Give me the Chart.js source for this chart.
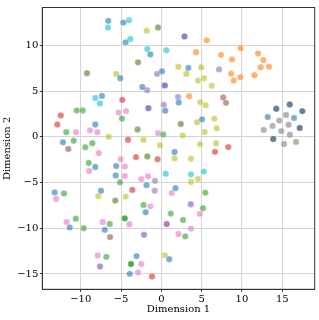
<!DOCTYPE html>
<html><head><meta charset="utf-8">
<script src="https://cdn.jsdelivr.net/npm/chart.js@4.4.1/dist/chart.umd.min.js"></script>
<style>html,body{margin:0;padding:0;background:#fff}canvas{display:block}</style>
</head><body>
<canvas id="c" width="319" height="320"></canvas>
<script>
// ---- data ----
const blueX = [-6.58,-7.36,-8.19,-12.20,-4.71,-4.44,-1.36,0.09,-5.09,-2.36,2.16,0.48,3.35,5.05,1.64,-8.19,-5.60,-5.66,-1.84,1.76,-13.23,-7.48,-1.94,-11.36,-7.02,-3.08,0.99,-3.92,13.20,16.46];
const blueY = [12.68,4.47,1.34,-0.60,12.49,10.33,9.01,7.17,6.41,5.44,3.75,2.86,7.53,1.91,-1.67,-3.30,-3.20,-4.24,-5.29,-5.62,-6.08,-5.90,-8.26,-9.91,-10.18,-13.05,-13.39,-14.99,2.16,2.05];
const cyanX = [-6.61,-8.19,-7.61,-4.01,-3.85,-1.74,0.62,0.55,3.68,5.27];
const cyanY = [11.95,4.25,3.64,12.74,10.69,9.61,9.47,-4.05,-4.11,-3.81];
const greenX = [-10.50,-9.75,-11.79,-10.87,-8.56,-9.43,-4.88,0.25,-9.01,-5.12,-12.07,-2.21,-10.61,-9.63,-6.40,-6.82,5.46,5.17,1.17,2.69,2.97];
const greenY = [2.88,2.88,0.51,-0.43,-0.71,-1.14,1.99,0.26,-2.86,-4.98,-6.19,-7.45,-8.96,-10.00,-9.54,-13.13,-6.11,-7.81,-8.40,-9.10,-10.89];
const darkGreenX = [-4.54,-3.76];
const darkGreenY = [-8.92,-13.91];
const mossX = [-9.22,-2.89,-0.41,-2.95,-1.74,2.41,-5.71];
const mossY = [6.95,8.14,11.95,0.80,-2.16,1.40,-6.98];
const oliveX = [-6.53,-5.58,-1.81,-2.21,-0.16,2.11,4.96,3.10,4.55,5.30,6.25,4.84,5.51,4.43,6.58,6.87,5.36,2.66,4.80,6.79,1.64,3.68,4.53,3.68,-7.82,-4.42,0.42];
const oliveY = [0.00,6.88,11.60,-0.32,-0.93,7.66,7.60,6.88,6.16,6.41,5.58,3.78,3.46,1.59,1.99,0.94,0.53,0.15,-0.82,-0.71,-2.38,-2.41,-4.62,-4.95,-6.51,-6.54,-12.96];
const orangeX = [5.63,4.31,7.41,9.83,8.77,8.65,9.80,8.98,3.46,12.00,12.66,12.33,13.36,11.56];
const orangeY = [10.55,9.25,8.96,9.69,8.47,6.91,6.53,6.16,4.43,9.11,8.39,7.60,7.67,6.74];
const redX = [-12.48,-12.90,-4.84,-4.13,-3.14,-0.47,8.31,6.66,-3.60,-1.15];
const redY = [2.34,1.34,4.04,-0.32,-2.22,-2.46,-1.13,-1.65,-5.81,-15.28];
const pinkX = [-8.85,-7.94,-10.58,-5.29,-4.38,-0.41,-5.04,-7.77,-8.95,-4.53,-4.54,-2.49,-1.65,1.29,-13.04,-1.36,-3.97,-11.74,-7.27,2.13,4.78,3.68,-7.89,-2.48,-2.89];
const pinkY = [0.70,0.51,0.51,2.63,2.81,0.40,-2.46,-1.79,-3.74,-3.25,-4.28,-4.65,-4.32,-6.16,-6.80,-7.61,-9.57,-9.32,-9.32,-10.64,-8.43,-10.04,-12.99,-13.91,-14.85];
const lavenderX = [-0.53,-1.75,2.07,0.30,7.16,-0.78,-0.82];
const lavenderY = [6.88,5.10,4.36,3.51,7.37,-4.82,-5.89];
const purpleX = [3.65,-2.15,-7.61];
const purpleY = [-7.38,-10.72,-14.18];
const indigoX = [2.88,0.43,-1.61];
const indigoY = [10.98,5.62,3.13];
const magentaX = [0.67];
const magentaY = [-9.54];
const brownX = [-11.54,7.68,8.03,-6.36];
const brownY = [-1.33,4.29,3.71,-10.97];
const grayX = [15.47,14.63,13.80,15.78,12.70,14.88,15.94,15.22,16.71];
const grayY = [2.38,1.77,1.19,1.32,0.76,0.62,0.22,-0.79,-0.57];
const slateX = [14.26,15.93,17.49,17.17,13.88];
const slateY = [3.07,3.53,2.81,0.97,-0.25];

const xTicks = [-10,-5,0,5,10,15];
const yTicks = [-15,-10,-5,0,5,10];
const xTitle = 'Dimension 1';
const yTitle = 'Dimension 2';

// ---- styles ----
const seriesList = [
  ['blue', blueX, blueY, 'rgba(31,119,180,0.6)'],
  ['cyan', cyanX, cyanY, 'rgba(23,190,207,0.6)'],
  ['green', greenX, greenY, 'rgba(44,160,44,0.6)'],
  ['darkgreen', darkGreenX, darkGreenY, 'rgba(30,150,30,0.8)'],
  ['moss', mossX, mossY, 'rgba(75,120,20,0.6)'],
  ['olive', oliveX, oliveY, 'rgba(188,189,34,0.6)'],
  ['orange', orangeX, orangeY, 'rgba(255,127,14,0.6)'],
  ['red', redX, redY, 'rgba(214,39,40,0.6)'],
  ['pink', pinkX, pinkY, 'rgba(227,119,194,0.6)'],
  ['lavender', lavenderX, lavenderY, 'rgba(148,103,189,0.6)'],
  ['purple', purpleX, purpleY, 'rgba(120,80,180,0.6)'],
  ['indigo', indigoX, indigoY, 'rgba(60,40,170,0.6)'],
  ['magenta', magentaX, magentaY, 'rgba(140,30,140,0.6)'],
  ['brown', brownX, brownY, 'rgba(140,86,75,0.6)'],
  ['gray', grayX, grayY, 'rgba(127,127,127,0.6)'],
  ['slate', slateX, slateY, 'rgba(0,40,80,0.6)']
];

const allX = seriesList.flatMap(s => s[1]);
const allY = seriesList.flatMap(s => s[2]);
function pad(arr){const mn=Math.min(...arr),mx=Math.max(...arr),r=mx-mn;return [mn-0.05*r,mx+0.05*r];}
const [xMin,xMax] = pad(allX);
const [yMin,yMax] = pad(allY);

const datasets = seriesList.map(([name, xs, ys, color]) => ({
  label: name,
  data: xs.map((v,i) => ({x:v, y:ys[i]})),
  backgroundColor: color,
  borderColor: 'rgba(255,255,255,0.55)',
  borderWidth: 0.6,
  pointRadius: 3.2,
  pointHoverRadius: 3.2
}));

const fmt = v => (v < 0 ? '\u2212' + Math.abs(v) : String(v));
const frame = {
  id: 'frame',
  afterDraw(chart){
    const {ctx, chartArea:a} = chart;
    ctx.save();
    ctx.strokeStyle = '#333';
    ctx.lineWidth = 1;
    ctx.strokeRect(a.left, a.top, a.right-a.left, a.bottom-a.top);
    ctx.restore();
  }
};

Chart.defaults.font.family = "'DejaVu Serif', serif";
Chart.defaults.color = '#000';

new Chart(document.getElementById('c'), {
  type: 'scatter',
  data: { datasets },
  plugins: [frame],
  options: {
    responsive: false,
    animation: false,
    devicePixelRatio: 1,
    layout: { padding: { top: 4, right: 4.3, left: 0, bottom: 0 } },
    plugins: { legend: { display: false }, tooltip: { enabled: false } },
    scales: {
      x: {
        type: 'linear', position: 'bottom', min: xMin, max: xMax,
        afterBuildTicks: s => { s.ticks = xTicks.map(v => ({value: v})); },
        afterFit: s => { s.height = 30.7; },
        ticks: { callback: v => fmt(v), font: { size: 10 }, padding: 2, maxRotation: 0, autoSkip: false },
        grid: { color: '#d4d4d4', lineWidth: 1, drawTicks: true, tickLength: 2.5, tickColor: '#333' },
        border: { display: true, color: '#333', width: 1 },
        title: { display: true, text: xTitle, font: { size: 10 }, padding: { top: 0, bottom: 4.5 } }
      },
      y: {
        type: 'linear', position: 'left', min: yMin, max: yMax,
        afterBuildTicks: s => { s.ticks = yTicks.map(v => ({value: v})); },
        afterFit: s => { s.width = 42.3; },
        ticks: { callback: v => fmt(v), font: { size: 10 }, padding: 1.5, autoSkip: false },
        grid: { color: '#d4d4d4', lineWidth: 1, drawTicks: true, tickLength: 2.5, tickColor: '#333' },
        border: { display: true, color: '#333', width: 1 },
        title: { display: true, text: yTitle, font: { size: 10 }, padding: { top: 1, bottom: 0 } }
      }
    }
  }
});
</script>
</body></html>
